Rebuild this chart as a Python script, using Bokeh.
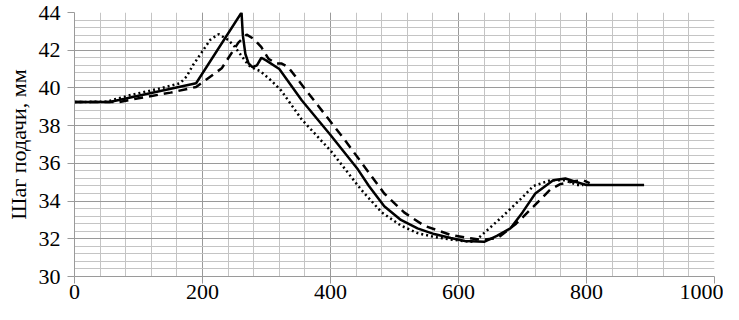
from bokeh.plotting import figure
from bokeh.models import Range1d, SingleIntervalTicker
from bokeh.embed import file_html
from bokeh.resources import INLINE

# Solid curve
solid_x = [0, 55, 190, 261, 263, 267, 272, 278, 285, 292, 300, 320, 355, 400, 443,
           460, 484, 510, 536, 562, 588, 610, 640, 660, 681, 700, 720, 748, 767, 785, 800, 890]
solid_y = [39.25, 39.25, 40.25, 44.0, 42.8, 41.8, 41.3, 41.1, 41.2, 41.6, 41.45, 41.0, 39.35, 37.5, 35.67,
           34.8, 33.73, 33.0, 32.55, 32.25, 32.04, 31.88, 31.84, 32.15, 32.55, 33.4, 34.4, 35.1, 35.2, 35.0, 34.85, 34.85]

# Dotted curve
dot_x = [0, 50, 85, 137, 165, 175, 185, 199, 212, 225, 240, 250, 261, 272, 282, 290, 308, 323, 355,
         401, 448, 480, 510, 536, 562, 590, 619, 630, 666, 700, 717, 743, 767, 785, 795]
dot_y = [39.25, 39.27, 39.6, 40.0, 40.25, 40.6, 41.2, 41.9, 42.55, 42.85, 42.55, 42.2, 41.7, 41.2, 41.0, 40.9, 40.37, 39.86, 38.33,
         36.64, 34.6, 33.4, 32.7, 32.3, 32.1, 31.95, 31.84, 32.0, 33.1, 34.2, 34.8, 35.1, 35.1, 34.85, 34.85]

# Dashed curve
dash_x = [0, 70, 100, 150, 190, 200, 230, 256, 269, 280, 292, 303, 315, 323, 334, 359, 421, 484,
          515, 546, 588, 635, 661, 690, 717, 743, 759, 780, 795, 805]
dash_y = [39.25, 39.25, 39.45, 39.75, 40.05, 40.3, 41.04, 42.4, 42.83, 42.6, 42.16, 41.55, 41.3, 41.3, 41.1, 40.0, 37.3, 34.4,
          33.4, 32.7, 32.2, 31.94, 32.04, 32.8, 33.7, 34.6, 34.9, 35.05, 35.1, 34.95]

y_label = "Шаг подачи, мм"

p = figure(width=723, height=304, output_backend="svg", toolbar_location=None,
           x_range=Range1d(0, 1000), y_range=Range1d(30, 44),
           min_border_left=74, min_border_right=9, min_border_top=12, min_border_bottom=28)

p.outline_line_color = None
p.background_fill_color = "white"
p.border_fill_color = "white"

p.xaxis.ticker = SingleIntervalTicker(interval=200, num_minor_ticks=5)
p.yaxis.ticker = SingleIntervalTicker(interval=2, num_minor_ticks=5)

for g in p.xgrid + p.ygrid:
    g.grid_line_color = "#9a9a9a"
    g.grid_line_width = 1
    g.minor_grid_line_color = "#c4c4c4"
    g.minor_grid_line_width = 1

for ax in p.xaxis + p.yaxis:
    ax.axis_line_color = "#9a9a9a"
    ax.major_tick_line_color = "#9a9a9a"
    ax.major_tick_out = 7
    ax.major_tick_in = 0
    ax.minor_tick_line_color = None
    ax.major_label_text_font = "Liberation Serif"
    ax.major_label_text_font_size = "22px"
    ax.major_label_text_color = "black"

p.yaxis.major_label_standoff = 7
p.xaxis.major_label_standoff = 1
p.yaxis.axis_label = y_label
p.yaxis.axis_label_text_font = "Liberation Serif"
p.yaxis.axis_label_text_font_size = "22px"
p.yaxis.axis_label_text_font_style = "normal"
p.yaxis.axis_label_text_color = "black"
p.yaxis.axis_label_standoff = 5

p.line(dot_x, dot_y, line_color="black", line_width=2.5, line_dash="2 3")
p.line(dash_x, dash_y, line_color="black", line_width=2.5, line_dash="9 6")
p.line(solid_x, solid_y, line_color="black", line_width=2.5)

open("out.html", "w").write(file_html(p, INLINE))
